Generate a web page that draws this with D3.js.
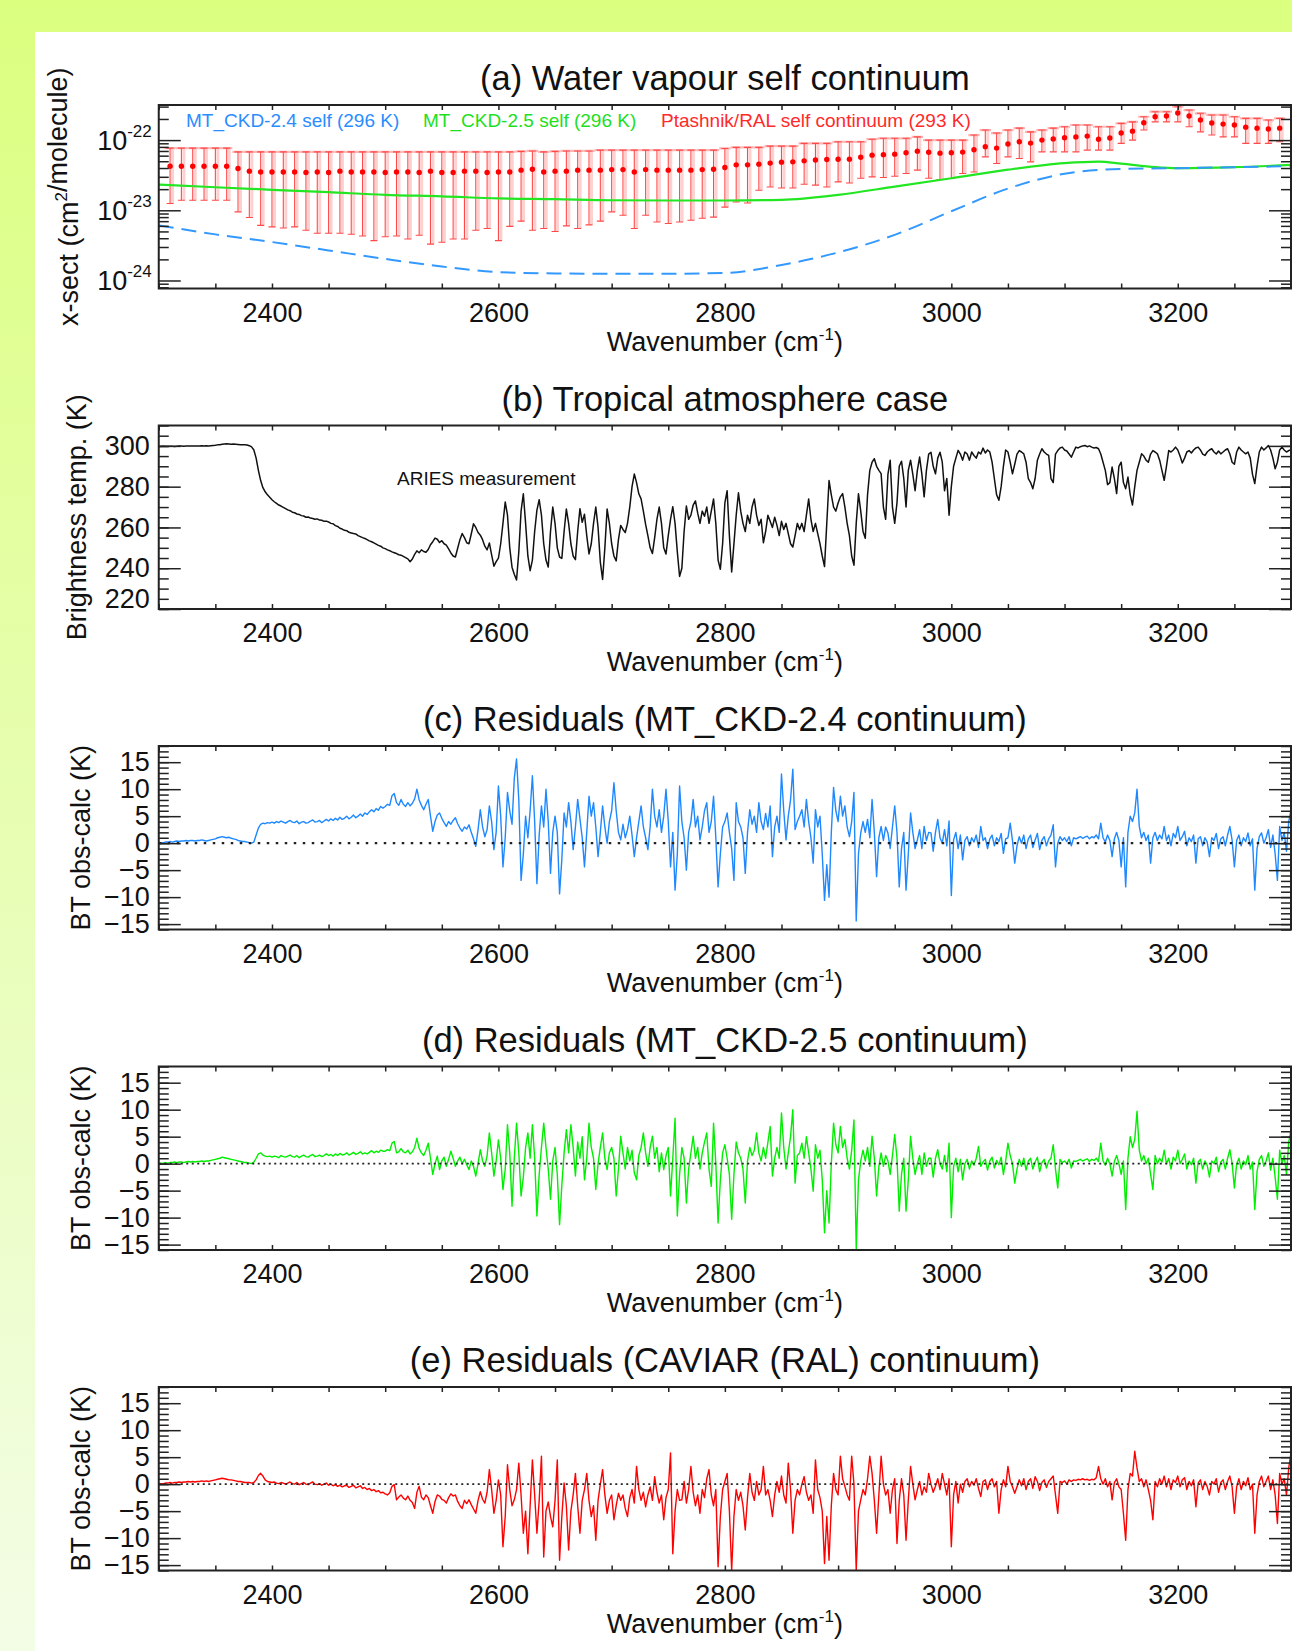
<!DOCTYPE html>
<html>
<head>
<meta charset="utf-8">
<script src="https://cdnjs.cloudflare.com/ajax/libs/d3/7.8.5/d3.min.js"></script>
<style>
  html, body { margin: 0; padding: 0; }
  body { width: 1292px; height: 1651px; overflow: hidden; background: linear-gradient(#dbff7f, #f3fde6); }
  svg { display: block; }
  text { font-family: "Liberation Sans", Arial, Helvetica, sans-serif; fill: #111; }
</style>
</head>
<body>
<svg id="chart" width="1292" height="1651"></svg>
<script>
// ---------- data ----------
const UNIT = 1e-23; // panel (a) values are in units of 1e-23 cm2/molecule

const titles = [
  "(a) Water vapour self continuum",
  "(b) Tropical atmosphere case",
  "(c) Residuals (MT_CKD-2.4 continuum)",
  "(d) Residuals (MT_CKD-2.5 continuum)",
  "(e) Residuals (CAVIAR (RAL) continuum)"
];
const xTicks = d3.range(2300, 3301, 50);
const xLabels = [2400, 2600, 2800, 3000, 3200];
const btTicks = [220, 240, 260, 280, 300];
const resTicks = [-15, -10, -5, 0, 5, 10, 15];
const logTicks = [1e-22, 1e-23, 1e-24];

// MT_CKD-2.4 self (296 K), dashed blue
const ckd24Wn = [2300,2350,2400,2450,2500,2550,2600,2650,2700,2750,2800,2850,2900,2950,3000,3050,3100,3150,3200,3250,3300];
const ckd24Val = [0.61,0.454,0.353,0.268,0.203,0.158,0.132,0.126,0.125,0.125,0.128,0.166,0.251,0.447,0.968,2.04,3.32,3.89,3.98,4.11,4.25];

// MT_CKD-2.5 self (296 K), green
const ckd25Wn = [2300,2350,2400,2450,2500,2550,2600,2650,2700,2750,2800,2850,2900,2950,3000,3050,3100,3130,3150,3180,3200,3250,3300];
const ckd25Val = [2.33,2.13,1.96,1.81,1.66,1.58,1.48,1.44,1.39,1.38,1.38,1.41,1.66,2.17,2.86,3.79,4.69,4.93,4.62,4.11,3.98,4.11,4.44];

// Ptashnik/RAL self continuum (293 K): value, lower and upper end of error bar, every 10 cm-1 from 2310
const ptVal = [
  4.25,4.25,4.25,4.25,4.25,4.25,3.94,3.61,3.52,3.52,3.52,3.52,3.46,3.52,3.46,3.61,3.52,3.52,3.52,3.46,
  3.52,3.52,3.46,3.61,3.46,3.46,3.61,3.61,3.46,3.52,3.52,3.73,3.85,3.52,3.61,3.61,3.73,3.73,3.73,3.8,
  3.8,3.52,3.8,3.73,3.73,3.73,3.73,3.8,3.85,4.07,4.44,4.44,4.54,4.7,4.85,4.9,5.06,5.2,5.3,5.33,
  5.35,5.7,6.1,6.2,6.31,6.6,6.96,6.7,6.52,6.6,6.74,7.3,8.02,7.69,8.8,9.46,9.06,10.0,10.4,10.8,
  11.1,11.4,10.3,10.7,12.6,13.4,17.7,21.5,22.0,24.3,22.0,19.3,17.5,16.9,16.4,15.3,14.8,14.4,14.8
];
const ptLow = [
  1.25,1.39,1.39,1.39,1.39,1.39,0.95,0.79,0.61,0.58,0.56,0.58,0.52,0.47,0.47,0.47,0.455,0.43,0.37,0.42,
  0.43,0.39,0.44,0.33,0.35,0.39,0.39,0.52,0.55,0.37,0.59,0.70,0.52,0.55,0.5,0.6,0.55,0.62,0.7,0.95,
  0.85,0.55,0.85,0.68,0.65,0.68,0.72,0.77,0.80,1.11,1.31,1.27,1.93,2.15,2.08,2.08,2.35,2.28,2.15,2.54,
  2.45,2.86,2.99,2.93,3.06,3.34,3.73,2.86,2.75,2.84,3.34,3.52,5.77,4.65,5.77,5.48,4.9,6.8,6.8,6.8,
  6.8,7.2,7.2,7.2,8.97,10.0,13.9,18.2,18.2,18.2,15.5,13.1,11.8,11.1,11.1,8.97,8.97,8.97,9.46
];
const ptHigh = [
  7.69,7.69,7.69,7.69,7.69,7.69,6.8,6.8,6.8,6.8,6.8,6.8,6.8,6.8,6.8,6.8,6.8,6.8,6.8,6.8,
  6.8,6.8,6.8,6.8,6.8,6.8,6.8,6.8,6.8,6.8,6.8,6.9,7.0,6.8,6.9,7.0,7.0,7.0,7.2,7.2,
  7.2,7.2,7.2,7.2,7.2,7.2,7.2,7.2,7.2,7.6,7.87,7.87,7.87,8.21,8.21,8.21,8.97,8.97,8.97,9.46,
  9.46,9.46,10.3,10.6,10.6,10.6,11.1,10.0,10.0,10.0,10.0,11.8,13.9,12.6,13.9,14.8,13.1,13.9,14.8,15.5,
  16.4,16.4,15.5,15.5,17.3,18.2,21.5,25.4,25.4,29.9,26.8,24.1,22.8,22.8,21.5,20.4,20.4,19.3,20.4
];

// ARIES brightness temperature (K), every 2 cm-1 from 2300 to 3300
const bt = [
  299.6,299.7,299.8,299.7,299.7,299.8,299.8,299.7,299.8,299.9,299.9,299.8,299.9,300.0,299.9,300.0,300.0,299.9,300.0,300.1,300.0,300.1,300.0,300.1,300.2,
  300.3,300.5,300.6,300.8,300.9,301.0,300.9,300.8,300.9,300.8,300.7,300.6,300.6,300.5,300.4,300.1,299.5,298.0,294.0,288.0,283.0,279.5,277.5,276.0,274.8,
  273.6,272.6,271.8,271.0,270.5,269.8,269.2,268.6,268.2,267.5,267.2,266.6,266.4,265.8,265.6,265.0,265.1,264.6,264.4,264.0,264.2,263.6,263.5,263.0,263.1,
  262.7,262.0,261.8,260.9,260.5,259.6,259.2,258.6,258.4,257.6,257.3,257.0,256.8,256.0,255.5,255.0,254.6,254.0,253.4,253.0,252.4,251.8,251.2,250.8,250.0,
  249.6,249.0,248.6,248.0,247.6,247.2,246.6,246.4,245.8,245.2,244.6,243.2,244.5,246.8,248.5,247.6,249.0,248.2,247.8,249.2,251.5,253.0,254.8,254.2,252.6,
  253.5,252.0,251.3,249.5,247.5,246.0,245.5,249.8,254.0,257.0,255.0,252.5,252.0,256.8,261.8,260.0,257.5,256.2,254.0,250.8,249.0,252.4,246.5,241.0,243.2,
  245.0,252.0,262.0,272.5,266.0,250.0,240.5,237.0,234.2,248.0,268.0,276.5,262.0,246.0,238.8,244.0,258.0,268.5,273.6,266.0,252.0,244.0,240.6,258.0,270.0,
  262.0,250.0,245.5,244.8,258.0,269.0,262.0,252.0,246.0,244.2,258.0,269.2,262.5,266.5,256.0,247.0,252.0,262.0,270.0,260.0,243.0,234.5,250.0,269.0,262.0,
  252.0,246.0,243.6,254.0,261.0,259.0,257.5,262.0,270.0,280.0,286.2,282.0,276.5,274.0,268.0,261.5,256.0,250.0,247.2,255.0,264.0,270.0,262.0,250.0,247.0,
  256.0,264.0,270.2,262.0,248.0,236.0,240.0,258.0,270.5,264.0,266.0,271.0,273.0,267.0,262.0,268.0,265.5,270.0,262.0,268.0,274.0,262.0,244.0,239.5,252.0,
  272.0,278.0,256.0,238.2,252.0,266.0,277.0,268.0,262.0,258.0,266.0,262.0,270.0,274.0,266.0,261.0,264.0,252.5,258.0,266.0,263.0,260.0,265.0,261.0,256.0,
  263.0,259.0,262.0,257.0,252.0,250.4,256.0,262.0,259.0,262.0,258.0,266.0,274.0,264.0,258.0,262.0,257.0,252.0,246.0,240.8,262.0,283.0,276.0,270.0,268.0,
  272.0,275.0,276.6,270.0,262.0,256.0,246.0,241.5,262.0,276.5,268.0,258.0,254.7,276.0,288.0,292.0,293.7,290.0,288.0,286.4,270.0,264.0,286.0,293.0,270.0,
  262.0,272.0,290.0,292.5,284.0,270.0,288.0,293.0,286.0,278.0,288.0,294.5,286.0,275.0,288.0,296.0,296.9,290.0,286.3,294.0,296.9,292.0,278.0,284.0,266.0,
  280.0,290.0,294.0,297.8,296.0,293.0,297.0,296.0,293.0,297.0,295.3,294.0,297.0,296.0,298.9,296.5,298.0,297.0,292.0,284.0,276.0,273.3,280.0,290.0,298.0,
  297.0,292.0,286.3,291.0,296.0,297.7,297.0,296.1,292.0,284.0,282.0,279.0,284.0,292.9,296.0,298.6,297.0,296.0,295.3,284.0,282.0,296.0,297.7,299.0,299.4,
  298.0,297.5,296.0,294.5,297.0,299.4,299.0,299.6,300.0,300.2,299.6,300.0,299.4,299.0,299.2,298.6,296.0,292.0,288.0,281.0,282.0,289.6,284.0,276.6,290.0,
  292.0,282.0,279.0,284.7,276.0,271.0,280.0,288.0,292.0,296.1,295.0,293.0,292.0,296.0,297.7,297.0,296.1,293.0,288.0,283.1,290.0,297.7,297.0,298.0,299.4,
  298.0,295.0,291.6,294.0,297.0,297.7,296.5,298.0,299.0,299.4,298.0,296.0,295.3,297.0,298.0,298.6,297.0,296.0,297.5,296.1,297.0,298.0,298.6,296.0,292.0,
  291.0,297.0,299.4,298.0,297.0,296.1,297.0,294.0,286.0,281.5,290.0,297.0,299.4,298.0,299.0,300.2,298.0,294.0,288.8,292.0,298.0,299.4,298.0,297.0,297.7,
  298.0
];

// BT obs-calc residuals (K), every 2 cm-1 from 2300 to 3300
const resCkd24 = [
  0.0,0.1,0.1,0.2,0.2,0.3,0.2,0.3,0.4,0.3,0.4,0.4,0.5,0.4,0.5,0.5,0.4,0.5,0.5,0.6,0.5,0.4,0.5,0.6,0.7,
  0.8,1.0,1.1,1.2,1.1,1.0,1.1,0.9,0.8,0.7,0.5,0.4,0.3,0.3,0.2,0.1,0.0,0.2,1.5,2.8,3.5,3.7,3.6,3.8,3.7,
  3.9,3.7,4.0,3.8,4.1,3.9,3.7,4.0,4.2,3.9,3.8,4.1,3.6,3.9,4.0,3.7,3.8,4.1,4.3,3.9,4.0,4.2,3.8,4.1,4.4,
  4.1,4.5,4.2,4.6,4.3,4.8,4.4,4.6,5.0,4.5,4.8,5.2,4.7,5.0,5.4,5.0,5.6,5.3,5.8,6.2,5.8,6.4,6.1,6.8,6.5,
  6.8,7.2,7.0,8.8,9.2,7.5,7.0,8.1,7.2,6.8,7.5,6.9,7.4,8.2,10.0,8.0,7.0,6.2,7.2,8.1,5.0,2.2,4.0,5.2,5.6,
  4.6,3.8,3.1,4.0,3.5,4.2,4.7,3.6,2.8,2.2,3.0,2.6,3.4,2.0,0.8,-0.6,2.5,6.2,3.0,1.2,2.5,6.9,4.0,-1.2,2.0,
  10.6,5.0,-4.4,1.0,9.4,6.0,3.5,12.0,15.6,8.0,-6.9,-2.0,5.0,1.0,6.0,12.5,4.0,-7.5,1.5,6.9,3.0,10.0,4.0,-5.6,2.0,
  5.0,2.0,-9.4,-3.0,5.6,3.0,7.5,4.0,-1.2,3.0,8.1,4.5,1.0,-4.4,2.0,8.7,5.0,7.5,3.0,-2.5,2.0,6.9,3.0,0.0,4.0,
  6.0,11.2,6.0,2.0,0.6,3.5,1.0,2.5,5.0,1.5,-2.5,1.0,4.0,6.9,3.0,1.0,-1.2,3.0,10.0,5.0,3.0,6.2,2.0,5.0,10.0,
  4.0,-4.4,2.0,-8.7,-2.0,10.6,4.0,1.0,-5.0,2.0,4.0,8.1,3.0,5.0,0.6,3.0,6.0,7.5,2.0,4.0,8.7,1.0,-8.1,-2.0,3.0,
  4.0,5.6,2.0,-1.0,-6.9,7.5,4.0,3.0,1.0,-5.6,2.0,6.2,3.5,5.0,2.0,7.5,4.0,2.5,5.5,3.0,6.9,-2.5,3.0,5.0,2.0,
  12.8,6.0,0.6,5.0,8.0,13.7,2.5,4.0,5.0,6.2,3.0,8.1,4.0,1.0,-3.7,6.2,3.0,5.0,-2.0,-10.6,-4.0,-10.0,2.0,10.3,6.0,
  4.0,8.7,5.0,6.9,3.0,1.2,4.0,9.4,-14.4,-2.0,1.9,4.0,2.0,4.4,1.0,8.1,2.0,-6.2,1.0,3.1,0.5,3.0,1.9,-1.0,3.0,
  6.9,2.0,-8.1,-1.0,2.0,-8.7,-2.0,5.6,2.0,-1.0,0.6,2.5,-1.0,3.1,0.5,2.0,1.9,-1.5,2.0,4.4,1.0,0.0,2.5,-0.5,4.1,
  -9.7,0.6,2.0,-1.0,1.5,-3.1,0.5,1.2,-0.5,1.0,0.2,1.5,-0.8,3.1,0.5,1.0,-1.0,0.8,1.5,-0.5,1.0,0.3,1.8,-1.9,0.8,
  1.0,3.7,0.5,-3.7,-0.5,1.2,0.0,1.5,-1.0,0.8,1.5,-0.8,0.6,1.8,-1.2,0.5,1.2,-0.5,0.8,1.5,3.4,-4.4,0.0,1.2,0.5,
  1.0,0.3,1.2,-0.5,1.0,0.8,1.0,1.2,0.9,1.1,1.3,0.8,1.2,1.0,1.5,0.8,3.7,1.0,0.2,1.5,0.5,-2.5,0.8,2.0,0.5,
  -4.4,1.0,-8.1,2.0,5.0,4.0,5.6,10.0,3.1,1.0,2.0,0.5,1.5,-3.7,1.0,2.0,0.5,1.5,0.8,3.1,0.5,1.5,-0.5,1.8,1.0,
  3.1,0.5,1.2,2.2,-0.5,1.0,0.3,1.5,-3.7,0.8,1.2,-0.5,1.0,0.2,-2.5,1.0,0.5,1.8,-1.0,0.8,1.2,-0.5,1.5,3.1,0.5,
  -4.4,0.5,1.5,-0.5,1.0,0.3,1.9,-0.5,0.8,-8.7,-1.0,1.2,1.9,0.0,1.0,2.5,-0.8,1.5,-2.0,-6.9,3.1,0.5,2.0,-1.5,4.0,
  6.2
];
const resCkd25 = [
  0.0,0.1,0.1,0.2,0.1,0.2,0.2,0.3,0.2,0.3,0.3,0.2,0.3,0.4,0.3,0.4,0.3,0.4,0.4,0.5,0.4,0.5,0.5,0.6,0.7,
  0.8,0.9,1.0,1.2,1.1,1.0,0.9,0.8,0.7,0.6,0.5,0.4,0.3,0.2,0.2,0.1,0.0,0.3,1.0,1.8,2.0,1.6,1.4,1.3,1.4,
  1.2,1.4,1.3,1.1,1.5,1.3,1.2,1.4,1.6,1.3,1.2,1.5,1.1,1.4,1.6,1.3,1.2,1.5,1.7,1.3,1.4,1.6,1.3,1.5,1.8,
  1.5,1.7,1.4,1.8,1.5,1.9,1.6,1.7,2.0,1.6,1.8,2.1,1.7,1.9,2.2,1.8,2.0,1.8,2.1,2.4,2.0,2.3,2.1,2.5,2.3,
  2.3,2.6,2.4,3.8,4.1,2.0,2.2,2.8,2.2,2.0,2.5,1.8,2.2,3.0,4.7,2.8,2.0,1.5,2.5,3.8,1.0,-2.0,0.0,1.4,-1.1,
  0.5,1.2,-0.5,0.8,2.3,1.0,-0.5,0.5,1.2,0.0,0.8,-0.2,-1.1,0.5,-0.5,-2.3,0.0,2.6,0.5,-0.5,1.5,5.7,2.0,-2.3,0.5,
  4.4,1.0,-4.8,-1.0,7.2,2.0,-7.9,1.0,7.5,2.0,-6.0,-2.5,3.0,5.7,1.0,7.2,1.0,-9.7,-2.0,3.0,7.5,3.0,-1.0,-6.6,0.5,
  3.0,-2.0,-11.3,-4.0,2.0,6.3,2.0,7.2,3.0,-2.3,4.0,1.0,5.0,-3.0,1.0,7.5,3.0,1.0,-4.8,0.0,3.0,5.7,1.0,-1.1,2.0,
  3.0,1.0,-6.0,-1.0,5.1,2.0,-1.0,3.0,0.5,2.5,-1.7,-3.0,1.5,3.0,5.7,2.0,-0.5,3.0,5.1,1.0,3.0,-1.5,2.0,-1.1,1.5,
  3.0,-6.0,1.0,8.4,-9.7,-2.0,3.0,1.0,-7.3,-1.0,2.0,5.1,1.0,3.0,-1.0,2.0,4.0,5.7,-1.0,-4.2,7.5,0.0,-11.0,-3.0,2.0,
  3.5,1.0,-2.0,-10.3,-2.0,4.0,2.0,1.0,-1.0,-7.3,0.5,3.0,1.5,2.5,5.7,2.0,0.5,3.0,1.0,4.0,6.9,-2.3,1.0,3.0,1.0,
  9.4,3.0,-1.0,2.0,5.0,10.0,-3.6,1.5,2.0,3.8,1.0,5.0,2.0,-1.0,-5.1,3.5,1.0,2.5,-3.0,-12.8,-5.0,-11.0,0.0,7.5,3.5,
  2.0,6.9,3.0,4.5,1.0,-1.0,2.5,8.1,-15.9,-3.0,0.5,2.5,0.5,3.0,-0.5,5.1,1.0,-6.0,-0.5,2.0,-0.5,1.5,0.5,-2.0,1.5,
  5.4,1.0,-8.8,-2.0,1.0,-8.8,-3.0,5.1,1.0,-2.0,0.0,1.5,-2.0,2.0,-0.5,1.0,1.0,-2.5,1.0,2.6,0.0,-1.0,1.5,-1.5,3.8,
  -10.0,-0.5,1.0,-1.5,0.8,-3.0,0.0,0.8,-1.0,0.5,-0.3,1.0,3.2,-0.5,0.3,0.8,-1.2,0.5,1.2,-0.8,0.6,-0.2,1.2,-2.0,0.5,
  3.8,1.5,0.0,-3.6,-1.0,0.8,-0.5,1.0,-1.2,0.5,1.0,-1.0,0.3,1.2,-1.5,0.2,0.8,-0.8,0.5,1.0,3.5,-1.0,-4.5,0.8,0.2,
  0.5,0.0,0.8,-0.8,0.5,0.4,0.6,0.8,0.5,0.7,0.9,0.4,0.8,0.6,1.0,0.4,3.8,0.5,-0.3,1.0,0.0,-2.3,0.4,1.5,0.0,
  -2.0,0.5,-8.5,1.0,5.0,3.0,4.5,9.7,2.5,0.5,1.5,0.0,1.0,-2.0,-4.8,1.5,0.0,1.0,0.3,2.5,0.0,1.0,-1.0,1.2,0.5,
  2.5,0.0,0.8,1.8,-1.0,0.5,-0.2,1.0,-3.6,0.3,0.8,-1.0,0.5,-0.3,-2.5,0.5,0.0,1.2,-1.5,0.3,0.8,-1.0,1.0,2.6,0.0,
  -4.5,0.0,1.0,-1.0,0.5,-0.2,1.5,-1.0,0.3,-8.5,-1.5,0.8,1.5,-0.5,0.5,2.0,-1.2,1.0,-2.5,-6.6,2.5,0.0,1.5,-2.0,4.0,
  6.3
];
const resCaviar = [
  0.0,0.1,0.1,0.2,0.2,0.3,0.2,0.3,0.3,0.4,0.3,0.4,0.4,0.5,0.4,0.5,0.4,0.5,0.5,0.6,0.5,0.6,0.5,0.6,0.7,
  0.8,0.9,1.0,1.1,1.0,0.9,0.8,0.8,0.7,0.6,0.5,0.5,0.4,0.3,0.3,0.3,0.2,0.3,0.8,1.6,2.0,1.5,0.8,0.5,0.4,
  0.3,0.4,0.2,0.1,0.3,0.2,0.0,0.2,0.4,0.1,0.0,0.3,-0.1,0.1,0.3,0.0,-0.1,0.2,0.4,0.0,-0.1,0.1,-0.2,0.0,0.2,
  -0.2,0.0,-0.3,-0.1,-0.4,-0.2,-0.5,-0.3,-0.2,-0.6,-0.4,-0.2,-0.7,-0.5,-0.3,-0.8,-0.6,-1.0,-0.8,-1.2,-1.0,-1.4,-1.2,-1.6,-1.5,
  -1.8,-2.0,-1.6,-0.4,-0.1,-2.9,-2.4,-2.0,-2.6,-2.9,-2.2,-3.0,-3.4,-4.5,-1.5,-0.4,-2.4,-2.9,-2.0,-2.5,-4.0,-5.4,-3.2,-2.0,-2.2,
  -2.8,-3.0,-3.5,-2.5,-1.8,-2.2,-2.0,-3.2,-4.0,-4.5,-3.0,-3.6,-2.9,-3.8,-4.6,-5.4,-3.0,-1.4,-2.8,-3.5,-1.5,2.7,-1.0,-5.4,-3.0,
  0.8,-2.0,-11.6,-6.0,3.6,-1.0,-4.0,-2.9,-1.0,3.9,-2.0,-9.1,-5.0,-12.9,-4.0,4.5,-2.0,-9.1,-3.0,5.2,-13.5,-5.0,-3.3,-6.0,-7.9,
  -3.0,4.5,-14.1,-6.0,0.2,-4.0,-12.2,-5.0,-2.0,2.0,-4.0,-9.1,-3.0,-1.0,2.0,-3.0,-6.0,-4.0,-10.4,-3.0,0.0,2.7,-2.0,-5.4,-3.0,
  -2.0,-6.6,-4.0,-1.7,-3.0,-2.0,-4.5,-6.0,-2.5,-1.0,-3.5,3.3,-1.0,-3.0,-1.5,-4.2,-2.0,-0.5,-3.0,1.4,-1.5,-3.5,-2.0,-6.6,-2.5,
  -1.0,5.8,-12.9,-5.0,-1.0,-3.0,-2.9,0.5,-3.5,-1.0,3.3,-1.5,-4.0,-2.0,-5.4,-1.0,-2.5,1.0,2.7,-2.0,-4.0,-1.0,-15.3,-6.0,-1.0,
  0.5,2.0,-5.0,-16.0,-6.0,-1.0,-3.0,-1.5,-4.0,-8.5,-2.5,2.0,-1.5,-3.0,0.5,-2.0,-1.0,3.3,-2.0,-1.0,-3.0,-6.0,-2.0,0.5,-1.5,
  1.5,-2.0,-3.5,3.9,-1.0,-9.1,-3.0,-1.0,-2.0,0.0,1.4,-1.5,-3.0,-2.0,-5.4,4.5,-1.0,-2.5,-5.0,-14.7,-6.0,-14.1,-4.0,2.0,-1.0,
  -2.0,5.2,1.0,-0.4,-2.0,-3.0,5.2,0.0,-16.0,-5.0,-2.9,-1.0,-2.0,1.0,5.2,2.0,-3.0,-9.1,-2.0,5.2,0.0,-2.0,-1.0,-5.4,-1.0,
  1.0,-11.0,-3.0,1.0,-2.0,-10.4,-3.0,3.3,0.0,-2.9,-1.0,0.5,-2.0,-0.5,-1.5,2.0,0.0,-1.5,-0.4,1.0,-1.0,2.0,0.0,-2.0,1.0,
  -11.6,-2.0,0.5,-3.5,0.0,-1.5,0.5,1.0,-0.5,0.5,-0.2,1.0,-0.8,-2.3,0.5,0.8,-1.0,0.5,1.0,-0.5,0.5,-5.4,-1.0,0.8,-0.5,
  3.3,0.5,-0.5,-1.7,-0.5,0.8,-0.3,1.0,-1.0,0.5,1.0,-0.8,1.4,0.5,-1.2,0.3,0.8,-0.6,0.5,1.0,1.5,-2.0,-5.4,0.5,0.3,
  0.6,0.0,0.8,0.5,0.8,0.7,0.9,0.8,1.0,0.8,0.9,0.7,0.9,0.8,1.2,3.3,1.0,0.0,1.0,-0.5,0.5,-2.9,0.3,1.0,-0.5,
  -1.0,-5.4,-10.4,-1.0,2.0,1.5,6.1,3.0,0.5,1.0,-0.5,0.8,-1.0,-3.0,-6.6,0.5,-0.5,1.0,0.0,1.5,-0.5,1.0,-1.0,0.8,0.3,
  1.5,-0.5,0.8,1.2,-1.0,0.5,-0.3,0.8,-4.2,0.2,0.8,-1.0,0.5,-0.5,-2.0,0.5,0.0,1.0,-1.5,0.3,0.8,-1.0,0.5,1.5,-0.5,
  -5.4,-0.5,1.0,-1.0,0.5,-0.3,1.2,-1.0,0.0,-9.1,-2.0,0.5,1.5,-0.5,0.5,1.5,-1.0,0.8,-2.0,-7.3,2.0,0.0,1.0,-2.0,3.0,
  5.8
];

const ptWn = d3.range(2310, 3291, 10);
const specWn = bt.map((d, i) => 2300 + 2 * i);

// ---------- layout ----------
const FONT = '"Liberation Sans", Arial, Helvetica, sans-serif';
const svg = d3.select("#chart");
svg.append("rect").attr("x", 35).attr("y", 32).attr("width", 1257).attr("height", 1619).attr("fill", "#fff");

const x = d3.scaleLinear().domain([2300, 3300]).range([158.75, 1291]);
const [x0, x1] = x.range();
const panelTops = [105, 425.5, 746, 1066.5, 1387];
const panelH = 183.5;

function styleAxis(sel) {
  sel.attr("font-family", null).attr("font-size", null);
  sel.select(".domain").remove();
  sel.selectAll(".tick line").attr("stroke", "#222").attr("stroke-width", 1.5);
  sel.selectAll(".tick text").attr("fill", "#111").style("font-size", "27px").style("font-family", FONT);
}

function makePanel(i) {
  const top = panelTops[i], bottom = top + panelH;
  const g = svg.append("g");
  svg.append("clipPath").attr("id", "clip" + i).append("rect")
    .attr("x", x0).attr("y", top).attr("width", x1 - x0).attr("height", panelH);
  const plot = g.append("g").attr("clip-path", `url(#clip${i})`);
  // title
  g.append("text").attr("x", (x0 + x1) / 2).attr("y", top - 15).attr("text-anchor", "middle")
    .style("font-size", "34.5px").text(titles[i]);
  // x axis title
  const xt = g.append("text").attr("x", (x0 + x1) / 2).attr("y", bottom + 62)
    .attr("text-anchor", "middle").style("font-size", "27px");
  xt.append("tspan").text("Wavenumber (cm");
  xt.append("tspan").attr("dy", -11).style("font-size", "17px").text("-1");
  xt.append("tspan").attr("dy", 11).text(")");
  return { g, plot, top, bottom };
}

function drawAxes(p, y, major, minor, fmt) {
  const { g, top, bottom } = p;
  g.append("g").attr("transform", `translate(0,${bottom})`)
    .call(d3.axisBottom(x).tickValues(xTicks).tickSize(-5).tickPadding(14)
      .tickFormat(d => xLabels.includes(d) ? d : ""))
    .call(styleAxis);
  g.append("g").attr("transform", `translate(0,${top})`)
    .call(d3.axisTop(x).tickValues(xTicks).tickSize(-5).tickFormat(""))
    .call(styleAxis);
  [[d3.axisLeft, x0], [d3.axisRight, x1]].forEach(([axis, pos], side) => {
    g.append("g").attr("transform", `translate(${pos},0)`)
      .call(axis(y).tickValues(minor).tickSize(-10).tickFormat(""))
      .call(styleAxis);
    g.append("g").attr("class", side === 0 ? "ymajor" : null).attr("transform", `translate(${pos},0)`)
      .call(axis(y).tickValues(major).tickSize(-22).tickPadding(9)
        .tickFormat(side === 0 && fmt ? fmt : ""))
      .call(styleAxis);
  });
  g.append("rect").attr("x", x0).attr("y", top).attr("width", x1 - x0).attr("height", panelH)
    .attr("fill", "none").attr("stroke", "#222").attr("stroke-width", 2);
}

function yTitle(p, cx, parts) {
  const t = p.g.append("text")
    .attr("transform", `translate(${cx},${p.top + panelH / 2}) rotate(-90)`)
    .attr("text-anchor", "middle").style("font-size", "27px");
  parts.forEach(([s, sup]) => {
    if (sup) {
      t.append("tspan").attr("dy", -11).style("font-size", "17px").text(s);
      t.append("tspan").attr("dy", 11).text("");
    } else {
      t.append("tspan").text(s);
    }
  });
}

// ---------- (a) continuum ----------
{
  const p = makePanel(0);
  const y = d3.scaleLog().domain([7.69e-25, 3.162e-22]).range([p.bottom, p.top]);
  const step = x(2320) - x(2310);

  p.plot.append("g").selectAll("line").data(ptWn).join("line")
    .attr("x1", d => x(d) + 2.5).attr("x2", d => x(d) + 2.5)
    .attr("y1", (d, i) => y(ptLow[i] * UNIT)).attr("y2", (d, i) => y(ptHigh[i] * UNIT))
    .attr("stroke", "#ffd0d0").attr("stroke-width", 3);
  p.plot.append("g").selectAll("line").data(ptWn).join("line")
    .attr("x1", d => x(d) - step / 2).attr("x2", d => x(d) + step / 2)
    .attr("y1", (d, i) => y(ptHigh[i] * UNIT)).attr("y2", (d, i) => y(ptHigh[i] * UNIT))
    .attr("stroke", "#ffb4b4").attr("stroke-width", 2.2);
  p.plot.append("g").selectAll("line").data(ptWn).join("line")
    .attr("x1", d => x(d)).attr("x2", d => x(d))
    .attr("y1", (d, i) => y(ptLow[i] * UNIT)).attr("y2", (d, i) => y(ptHigh[i] * UNIT))
    .attr("stroke", "#ff4a4a").attr("stroke-width", 1.1);
  ["low", "high"].forEach(k => {
    const arr = k === "low" ? ptLow : ptHigh;
    p.plot.append("g").selectAll("line").data(ptWn).join("line")
      .attr("x1", d => x(d) - 3.5).attr("x2", d => x(d) + 3.5)
      .attr("y1", (d, i) => y(arr[i] * UNIT)).attr("y2", (d, i) => y(arr[i] * UNIT))
      .attr("stroke", "#ff4a4a").attr("stroke-width", 1.1);
  });

  const line = d3.line().curve(d3.curveMonotoneX);
  p.plot.append("path")
    .attr("d", line(ckd25Wn.map((w, i) => [x(w), y(ckd25Val[i] * UNIT)])))
    .attr("fill", "none").attr("stroke", "#22e622").attr("stroke-width", 2.2);
  p.plot.append("path")
    .attr("d", line(ckd24Wn.map((w, i) => [x(w), y(ckd24Val[i] * UNIT)])))
    .attr("fill", "none").attr("stroke", "#3399ff").attr("stroke-width", 2)
    .attr("stroke-dasharray", "15,8");
  p.plot.append("g").selectAll("circle").data(ptWn).join("circle")
    .attr("cx", d => x(d)).attr("cy", (d, i) => y(ptVal[i] * UNIT)).attr("r", 2.7)
    .attr("fill", "#ff0000");

  const minor = [];
  [-25, -24, -23, -22].forEach(n => d3.range(2, 10).forEach(k => {
    const v = k * Math.pow(10, n);
    if (v > 7.69e-25 && v < 3.162e-22) minor.push(v);
  }));
  drawAxes(p, y, logTicks, minor, null);
  logTicks.forEach(v => {
    const t = p.g.append("text").attr("x", x0 - 7).attr("y", y(v) + 9.5)
      .attr("text-anchor", "end").style("font-size", "27px");
    t.append("tspan").text("10");
    t.append("tspan").attr("dy", -13).style("font-size", "17px").text(String(Math.round(Math.log10(v))));
  });
  yTitle(p, 77.5, [["x-sect (cm"], ["2", true], ["/molecule)"]]);

  const legend = [
    ["MT_CKD-2.4 self (296 K)", "#2b8cff", 186],
    ["MT_CKD-2.5 self (296 K)", "#1ee01e", 423],
    ["Ptashnik/RAL self continuum (293 K)", "#ff2a2a", 661]
  ];
  legend.forEach(([s, c, lx]) => {
    p.g.append("text").attr("x", lx).attr("y", 127).style("font-size", "19px")
      .style("fill", c).text(s);
  });
}

// ---------- (b) brightness temperature ----------
{
  const p = makePanel(1);
  const y = d3.scaleLinear().domain([220, 310]).range([p.bottom, p.top]);
  p.plot.append("path")
    .attr("d", d3.line()(specWn.map((w, i) => [x(w), y(bt[i])])))
    .attr("fill", "none").attr("stroke", "#111").attr("stroke-width", 1.5)
    .attr("stroke-linejoin", "round");
  drawAxes(p, y, btTicks, d3.range(220, 311, 5), d3.format("d"));
  p.g.select(".ymajor").selectAll(".tick").filter(d => d === 220)
    .select("text").attr("transform", "translate(0,-10.5)");
  p.g.append("text").attr("x", 397).attr("y", 485).style("font-size", "19px").text("ARIES measurement");
  yTitle(p, 85.5, [["Brightness temp. (K)"]]);
}

// ---------- (c)-(e) residuals ----------
const resSeries = [
  [resCkd24, "#1e88ff", "2.5,6.5", 2.2],
  [resCkd25, "#00ee00", "2,3.5", 1.8],
  [resCaviar, "#ff0000", "2,3.5", 1.8]
];
resSeries.forEach(([vals, color, dash, dw], k) => {
  const p = makePanel(k + 2);
  const y = d3.scaleLinear().domain([-16, 18]).range([p.bottom, p.top]);
  p.plot.append("path")
    .attr("d", d3.line()(specWn.map((w, i) => [x(w), y(vals[i])])))
    .attr("fill", "none").attr("stroke", color).attr("stroke-width", 1.4)
    .attr("stroke-linejoin", "round");
  p.plot.append("line").attr("x1", x0).attr("x2", x1).attr("y1", y(0)).attr("y2", y(0))
    .attr("stroke", "#222").attr("stroke-width", dw).attr("stroke-dasharray", dash);
  drawAxes(p, y, resTicks, d3.range(-16, 19, 1), d3.format("d"));
  yTitle(p, 90, [["BT obs-calc (K)"]]);
});
</script>
</body>
</html>
